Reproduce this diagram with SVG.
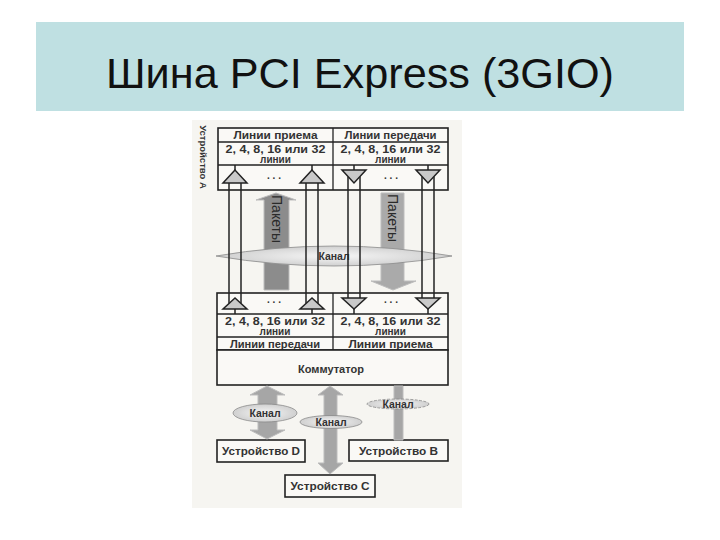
<svg xmlns="http://www.w3.org/2000/svg" width="720" height="540" viewBox="0 0 720 540">
<defs>
<style>
.box{fill:#faf9f6;stroke:#222;stroke-width:1.6}
.ln{stroke:#222;stroke-width:1.3;fill:none}
.sh{stroke:#222;stroke-width:1.5;fill:none}
.tri{fill:#c9c9c9;stroke:#222;stroke-width:1.5}
.t{font-family:"Liberation Sans",Arial,sans-serif;font-weight:bold;fill:#333;text-anchor:middle}
.hd{font-size:10.5px}
.num{font-size:11px}
.li{font-size:10px}
.dv{font-size:11px}
.dots{font-family:"Liberation Sans",Arial,sans-serif;font-size:10px;font-weight:bold;fill:#333;text-anchor:middle}
.pk{font-family:"Liberation Sans",Arial,sans-serif;font-size:14px;fill:#2a2a2a;text-anchor:middle;dominant-baseline:central}
.kn{font-family:"Liberation Sans",Arial,sans-serif;font-size:10.5px;font-weight:bold;fill:#333;text-anchor:middle}
.garrow{stroke:#bdbdbd;stroke-width:1}
.kanal{fill:url(#kg);stroke:#8a8a8a;stroke-width:0.8}
</style>
<radialGradient id="kg" cx="0.5" cy="0.5" r="0.6">
<stop offset="0" stop-color="#f6f6f6"/>
<stop offset="1" stop-color="#c8c8c8"/>
</radialGradient>
</defs>
<rect x="0" y="0" width="720" height="540" fill="#ffffff"/>
<g id="title">
<rect x="36" y="22" width="648" height="89" fill="#bfe0e2"/>
<text x="360" y="88" font-family="'Liberation Sans',Arial,sans-serif" font-size="42" text-anchor="middle" fill="#111" textLength="508" lengthAdjust="spacingAndGlyphs">Шина PCI Express (3GIO)</text>
</g>
<rect x="192" y="120" width="270" height="388" fill="#f6f5f1"/>
<g id="device-a">
<rect class="box" x="218" y="128" width="230" height="62"/>
<line class="ln" x1="333" y1="128" x2="333" y2="190" stroke-width="2"/>
<line class="ln" x1="218" y1="142" x2="448" y2="142"/>
<line class="ln" x1="218" y1="165" x2="448" y2="165"/>
<text class="t hd" x="275.5" y="139" textLength="84" lengthAdjust="spacingAndGlyphs">Линии приема</text>
<text class="t hd" x="390.5" y="139" textLength="92" lengthAdjust="spacingAndGlyphs">Линии передачи</text>
<text class="t num" x="275.5" y="153" textLength="100" lengthAdjust="spacingAndGlyphs">2, 4, 8, 16 или 32</text>
<text class="t li" x="275.5" y="162.5">линии</text>
<text class="t num" x="390.5" y="153" textLength="100" lengthAdjust="spacingAndGlyphs">2, 4, 8, 16 или 32</text>
<text class="t li" x="390.5" y="162.5">линии</text>
<text class="dots" x="274" y="179">. . .</text>
<text class="dots" x="391" y="179">. . .</text>
<text class="t" font-size="9.5" transform="translate(203 157) rotate(90)" x="0" y="0" dominant-baseline="central">Устройство А</text>
</g>
<g id="switch-ports">
<rect class="box" x="217" y="293" width="231" height="57"/>
<line class="ln" x1="333" y1="293" x2="333" y2="350" stroke-width="2"/>
<line class="ln" x1="217" y1="314" x2="448" y2="314"/>
<line class="ln" x1="217" y1="337" x2="448" y2="337"/>
<text class="dots" x="274" y="303">. . .</text>
<text class="dots" x="391" y="303">. . .</text>
<text class="t num" x="275" y="325" textLength="100" lengthAdjust="spacingAndGlyphs">2, 4, 8, 16 или 32</text>
<text class="t li" x="275" y="334.5">линии</text>
<text class="t num" x="390.5" y="325" textLength="100" lengthAdjust="spacingAndGlyphs">2, 4, 8, 16 или 32</text>
<text class="t li" x="390.5" y="334.5">линии</text>
<text class="t hd" x="275" y="347.5" textLength="90" lengthAdjust="spacingAndGlyphs">Линии передачи</text>
<text class="t hd" x="390.5" y="347.5" textLength="84" lengthAdjust="spacingAndGlyphs">Линии приема</text>
</g>
<g id="switch">
<rect class="box" x="217" y="350" width="231" height="35"/>
<text class="t dv" x="331" y="373">Коммутатор</text>
</g>
<g id="device-d">
<rect class="box" x="217" y="440" width="88" height="22"/>
<text class="t dv" x="261" y="455" textLength="78" lengthAdjust="spacingAndGlyphs">Устройство D</text>
</g>
<g id="device-b">
<rect class="box" x="349" y="440" width="99" height="21"/>
<text class="t dv" x="398.5" y="454.5" textLength="79" lengthAdjust="spacingAndGlyphs">Устройство В</text>
</g>
<g id="device-c">
<rect class="box" x="285" y="475" width="90" height="22"/>
<text class="t dv" x="330" y="490" textLength="79" lengthAdjust="spacingAndGlyphs">Устройство C</text>
</g>
<g id="connectors">
<polygon class="garrow" fill="#8c8c8c" points="264,290 264,200 256,200 276,193 296,200 289,200 289,290"/>
<polygon class="garrow" fill="#aaaaaa" points="381,193 404,193 404,281 416,281 393,290 371,281 381,281"/>
<text class="pk" transform="translate(277 219) rotate(90)">Пакеты</text>
<text class="pk" transform="translate(393 218) rotate(90)">Пакеты</text>
<path class="kanal" d="M216,256 Q334,236 452,256 Q334,276 216,256 Z"/>
<text class="kn" x="334" y="259.5">Канал</text>
<g class="sh">
<line x1="229" y1="183" x2="229" y2="303.5"/><line x1="241" y1="183" x2="241" y2="303.5"/>
<line x1="306" y1="183" x2="306" y2="303.5"/><line x1="318" y1="183" x2="318" y2="303.5"/>
<line x1="348" y1="176.5" x2="348" y2="298"/><line x1="360" y1="176.5" x2="360" y2="298"/>
<line x1="422" y1="176.5" x2="422" y2="298"/><line x1="434" y1="176.5" x2="434" y2="298"/>
<line x1="235" y1="165" x2="235" y2="170"/><line x1="312" y1="165" x2="312" y2="170"/>
<line x1="354" y1="165" x2="354" y2="170"/><line x1="428" y1="165" x2="428" y2="170"/>
<line x1="235" y1="309" x2="235" y2="314"/><line x1="312" y1="309" x2="312" y2="314"/>
<line x1="354" y1="309" x2="354" y2="314"/><line x1="428" y1="309" x2="428" y2="314"/>
</g>
<polygon class="tri" points="235,170 223,183 247,183"/>
<polygon class="tri" points="312,170 300,183 324,183"/>
<polygon class="tri" points="342,170 366,170 354,183"/>
<polygon class="tri" points="416,170 440,170 428,183"/>
<polygon class="tri" points="235,298 223,309 247,309"/>
<polygon class="tri" points="312,298 300,309 324,309"/>
<polygon class="tri" points="342,298 366,298 354,309"/>
<polygon class="tri" points="416,298 440,298 428,309"/>
<polygon class="garrow" fill="#a6a6a6" points="267,386 285,395 277,395 277,430 285,430 267,439 250,430 258,430 258,395 250,395"/>
<ellipse class="kanal" cx="265" cy="413" rx="32" ry="9"/>
<text class="kn" x="265" y="417">Канал</text>
<polygon class="garrow" fill="#a6a6a6" points="330,386 343,395 337,395 337,463 343,463 330,474 318,463 324,463 324,395 318,395"/>
<ellipse class="kanal" cx="331" cy="422" rx="31" ry="6.5"/>
<text class="kn" x="331" y="426">Канал</text>
<polygon class="garrow" fill="#a6a6a6" points="394,386 403,386 403,440 394,440"/>
<ellipse class="kanal" cx="398" cy="404" rx="31" ry="5" stroke-dasharray="3 1.5"/>
<text class="kn" x="398" y="408">Канал</text>
</g>
</svg>
